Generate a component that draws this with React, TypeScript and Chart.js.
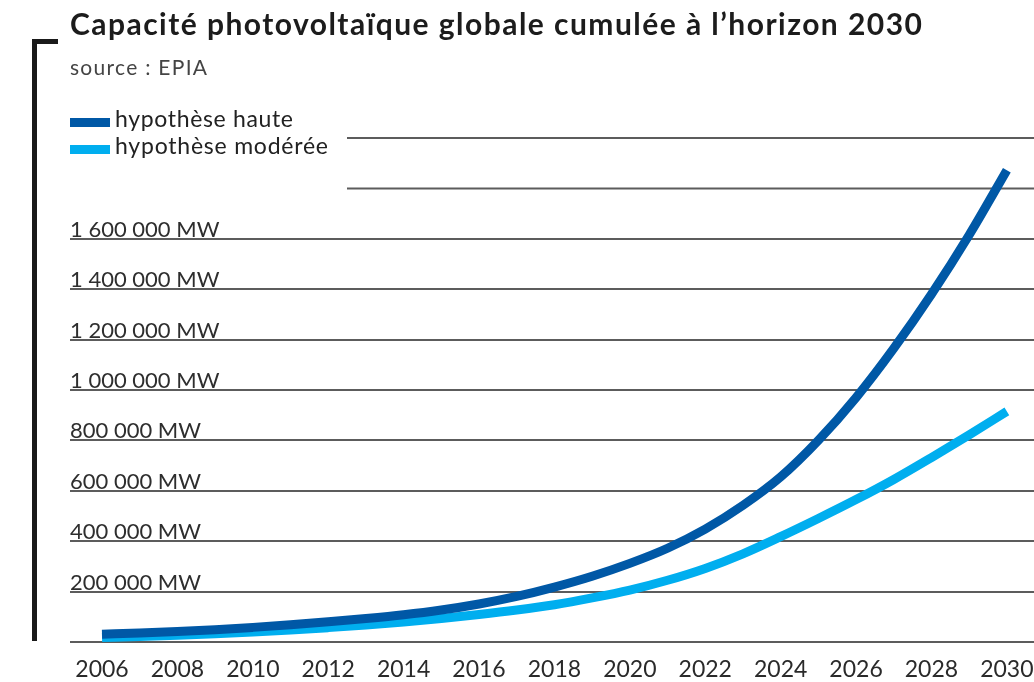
import React, { useEffect, useRef } from 'react';
import { Chart, registerables } from 'chart.js';

Chart.register(...registerables);

const years = [2006, 2007, 2008, 2009, 2010, 2011, 2012, 2013, 2014, 2015, 2016, 2017, 2018, 2019, 2020, 2021, 2022, 2023, 2024, 2025, 2026, 2027, 2028, 2029, 2030];
const hauteValues = [31000, 36000, 42000, 49000, 58000, 68000, 80000, 93000, 108000, 127000, 151000, 181000, 218000, 261000, 312000, 372000, 448000, 542000, 655000, 800000, 970000, 1165000, 1380000, 1615000, 1872000];
const modereeValues = [18000, 22000, 27000, 33000, 40000, 48000, 57000, 67000, 79000, 93000, 109000, 127000, 148000, 175000, 206000, 245000, 292000, 350000, 418000, 490000, 565000, 645000, 732000, 822000, 915000];
const xTickYears = [2006, 2008, 2010, 2012, 2014, 2016, 2018, 2020, 2022, 2024, 2026, 2028, 2030];
const yTickValues = [0, 200000, 400000, 600000, 800000, 1000000, 1200000, 1400000, 1600000, 1800000, 2000000];
const labeledMax = 1600000;
const seriesLabels = ['hypothèse haute', 'hypothèse modérée'];
const seriesColors = ['#0058A6', '#00AEEF'];
const titleText = 'Capacité photovoltaïque globale cumulée à l’horizon 2030';
const sourceText = 'source : EPIA';

const FONT = 'Lato, "Open Sans", sans-serif';
const gridColor = '#5c5c5c';

const fmtMW = (v: number) => String(v).replace(/\B(?=(\d{3})+(?!\d))/g, ' ') + ' MW';

function drawStretched(ctx: any, text: string, x: number, y: number, font: string, targetW: number) {
  ctx.font = font;
  if ('letterSpacing' in ctx) ctx.letterSpacing = '0px';
  const w = ctx.measureText(text).width;
  if ('letterSpacing' in ctx && text.length > 1) {
    ctx.letterSpacing = ((targetW - w) / (text.length - 1)).toFixed(2) + 'px';
  }
  ctx.fillText(text, x, y);
  if ('letterSpacing' in ctx) ctx.letterSpacing = '0px';
}

const decorPlugin = {
  id: 'decor',
  beforeDatasetsDraw(chart: any) {
    const { ctx, chartArea } = chart;
    const y = chart.scales.y;
    ctx.save();
    ctx.strokeStyle = gridColor;
    ctx.lineWidth = 2;
    yTickValues.filter((v) => v > labeledMax).forEach((v) => {
      const py = y.getPixelForValue(v);
      ctx.beginPath();
      ctx.moveTo(347, py);
      ctx.lineTo(chartArea.right, py);
      ctx.stroke();
    });
    ctx.restore();
  },
  afterDraw(chart: any) {
    const { ctx } = chart;
    ctx.save();
    // bracket
    ctx.fillStyle = '#1a1a1a';
    ctx.fillRect(32, 39, 5, 602);
    ctx.fillRect(32, 39, 26, 5);
    ctx.textBaseline = 'alphabetic';
    ctx.textAlign = 'left';
    // title
    ctx.fillStyle = '#1c1c1c';
    drawStretched(ctx, titleText, 70, 35, `bold 30px ${FONT}`, 852);
    ctx.fillStyle = '#444';
    drawStretched(ctx, sourceText, 70, 75, `21px ${FONT}`, 137);
    // legend
    const legendW = [178, 213];
    chart.data.datasets.forEach((ds: any, i: number) => {
      const top = 118 + i * 27;
      ctx.fillStyle = ds.borderColor;
      ctx.fillRect(70, top, 40, 9);
      ctx.fillStyle = '#222';
      drawStretched(ctx, ds.label, 115, top + 9, `23px ${FONT}`, legendW[i]);
    });
    ctx.restore();
  },
};

export default function App() {
  const ref = useRef<HTMLCanvasElement | null>(null);
  useEffect(() => {
    if (!ref.current) return;
    const chart = new Chart(ref.current, {
      type: 'line',
      data: {
        datasets: [
          {
            label: seriesLabels[0],
            data: years.map((yr, i) => ({ x: yr, y: hauteValues[i] })),
            borderColor: seriesColors[0],
            backgroundColor: seriesColors[0],
            borderWidth: 9,
            pointRadius: 0,
            borderCapStyle: 'butt',
            cubicInterpolationMode: 'monotone',
            fill: false,
          },
          {
            label: seriesLabels[1],
            data: years.map((yr, i) => ({ x: yr, y: modereeValues[i] })),
            borderColor: seriesColors[1],
            backgroundColor: seriesColors[1],
            borderWidth: 9,
            pointRadius: 0,
            borderCapStyle: 'butt',
            cubicInterpolationMode: 'monotone',
            fill: false,
          },
        ],
      },
      options: {
        responsive: false,
        animation: false,
        layout: { padding: { top: 138, left: 70, right: 0, bottom: 0 }, autoPadding: false },
        plugins: { legend: { display: false }, title: { display: false }, tooltip: { enabled: false } },
        scales: {
          x: {
            type: 'linear',
            min: 2005.151,
            max: 2030.72,
            afterBuildTicks: (s: any) => { s.ticks = xTickYears.map((v) => ({ value: v })); },
            afterFit: (s: any) => { s.height = 40; s.paddingLeft = 0; s.paddingRight = 0; },
            grid: { display: false, drawTicks: false },
            border: { display: false },
            ticks: {
              autoSkip: false,
              maxRotation: 0,
              padding: 14,
              color: '#2a2a2a',
              font: { family: FONT, size: 23 },
              callback: (v: any) => String(v),
            },
          },
          y: {
            type: 'linear',
            min: 0,
            max: 2000000,
            afterBuildTicks: (s: any) => { s.ticks = yTickValues.map((v) => ({ value: v })); },
            afterFit: (s: any) => { s.width = 0; s.paddingTop = 0; s.paddingBottom = 0; },
            border: { display: false },
            grid: {
              drawTicks: false,
              lineWidth: 2,
              color: (c: any) => (c.tick && c.tick.value > labeledMax ? 'rgba(0,0,0,0)' : gridColor),
            },
            ticks: {
              mirror: true,
              padding: 0,
              labelOffset: -9,
              color: '#2e2e2e',
              font: { family: FONT, size: 22 },
              callback: (v: any) => (v > 0 && v <= labeledMax ? fmtMW(v) : ''),
            },
          },
        },
      },
      plugins: [decorPlugin],
    } as any);
    return () => chart.destroy();
  }, []);
  return (
    <div style={{ position: 'fixed', left: 0, top: 0, width: 1034, height: 682, background: '#fff' }}>
      <canvas ref={ref} width={1034} height={682} />
    </div>
  );
}
